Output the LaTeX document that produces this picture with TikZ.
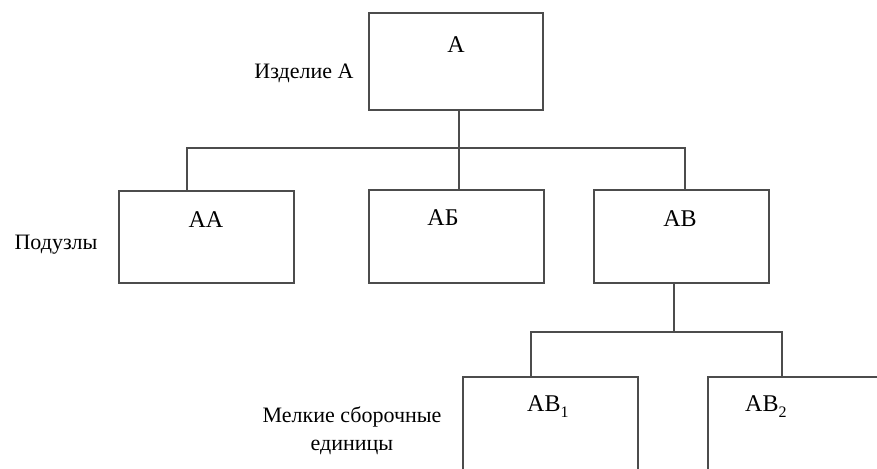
\documentclass[tikz,border=0pt]{standalone}
\usepackage{fontspec}
\setmainfont{Liberation Serif}
\newcommand{\lowsub}[1]{\raisebox{-6pt}{\fontsize{16}{16}\selectfont #1}}
\begin{document}
\begin{tikzpicture}[x=1pt,y=-1pt,
  box/.style={draw=black!70,line width=1.5pt,minimum width=#1,inner sep=0pt},
  box/.default=175pt,
  ttl/.style={font=\fontsize{24}{28}\selectfont,inner sep=0pt},
  lbl/.style={font=\fontsize{22}{28}\selectfont,inner sep=0pt,align=center},
  wire/.style={draw=black!70,line width=1.5pt}]
\useasboundingbox (0,0) rectangle (877,468);
\clip (0,0) rectangle (877,468);
% boxes
\node[box=174pt,minimum height=97pt] (A) at (456,61.5) {};
\node[box,minimum height=92pt] (AA) at (206.5,237) {};
\node[box,minimum height=93pt] (AB) at (456.5,236.5) {};
\node[box,minimum height=93pt] (AV) at (681.5,236.5) {};
\node[box,minimum height=120pt,anchor=north west] (AV1) at (462,376) {};
\node[box,minimum height=120pt,anchor=north west] (AV2) at (707,376) {};
% texts in boxes
\node[ttl] (tA) at (456,45) {А};
\node[ttl] (tAA) at (206,220) {АА};
\node[ttl] (tAB) at (443,218) {АБ};
\node[ttl] (tAV) at (680,219) {АВ};
\node[ttl,anchor=base west] (tAV1) at (527,411) {АВ\lowsub{1}};
\node[ttl,anchor=base west] (tAV2) at (745,411) {АВ\lowsub{2}};
% side labels
\node[lbl] (l1) at (304,73) {Изделие А};
\node[lbl] (l2) at (56,245) {Подузлы};
\node[lbl] (l3) at (352,431) {Мелкие сборочные\\единицы};
% connectors
\coordinate (j1) at (459,148);
\coordinate (b1l) at (187,148);
\coordinate (b1r) at (685,148);
\coordinate (j2) at (674,332);
\coordinate (b2l) at (531,332);
\coordinate (b2r) at (782,332);
\draw[wire] (j1 |- A.south) -- (j1);
\draw[wire] (b1l |- AA.north) -- (b1l) -- (b1r) -- (b1r |- AV.north);
\draw[wire] (j1) -- (j1 |- AB.north);
\draw[wire] (j2 |- AV.south) -- (j2);
\draw[wire] (b2l |- AV1.north) -- (b2l) -- (b2r) -- (b2r |- AV2.north);
\end{tikzpicture}
\end{document}
